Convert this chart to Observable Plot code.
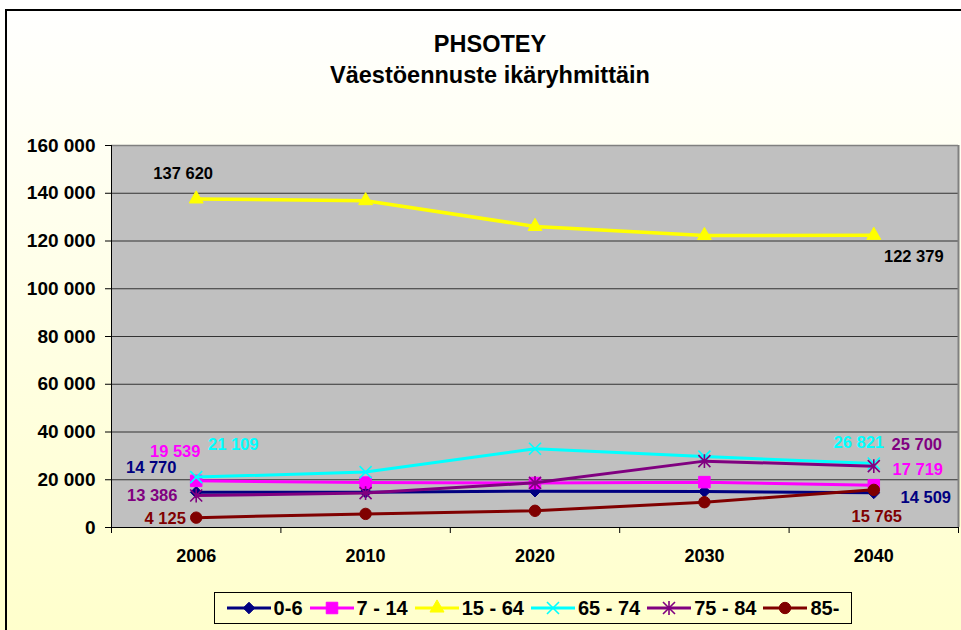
<!DOCTYPE html>
<html><head><meta charset="utf-8">
<script src="https://cdn.jsdelivr.net/npm/d3@7"></script>
<script src="https://cdn.jsdelivr.net/npm/@observablehq/plot@0.6"></script>
<style>
html,body{margin:0;padding:0;width:961px;height:630px;overflow:hidden;}
#wrap{position:relative;width:961px;height:630px;overflow:hidden;
  background:linear-gradient(to bottom,#ffffff 0%,#fffff2 25%,#ffffcc 100%);
  font-family:"Liberation Sans",Arial,sans-serif;}
#border{position:absolute;left:5px;top:9px;width:1000px;height:700px;border-left:2px solid #000;border-top:2px solid #000;}
.title{position:absolute;left:0;width:980px;text-align:center;font-weight:bold;font-size:23.5px;line-height:23px;color:#000;}
#chart{position:absolute;left:0;top:0;}
#legend{position:absolute;left:214px;top:592px;width:636px;height:30px;border:1px solid #000;
  display:flex;align-items:center;justify-content:center;gap:7px;font-weight:bold;font-size:20px;}
#legend .item{display:flex;align-items:center;gap:3px;}
</style>
</head><body>
<div id="wrap">
  <div id="border"></div>
  <div class="title" style="top:33px">PHSOTEY</div>
  <div class="title" style="top:64px">Väestöennuste ikäryhmittäin</div>
  <div id="chart"></div>
  <div id="legend"></div>
</div>
<script>
// ---- data ----
const years = ["2006", "2010", "2020", "2030", "2040"];
const seriesNames = ["0-6", "7 - 14", "15 - 64", "65 - 74", "75 - 84", "85-"];
const age0_6   = [14770, 14800, 15200, 15100, 14509];
const age7_14  = [19539, 18800, 18600, 19000, 17719];
const age15_64 = [137620, 136900, 126100, 122300, 122379];
const age65_74 = [21109, 23200, 33000, 29700, 26821];
const age75_84 = [13386, 14400, 18700, 27800, 25700];
const age85    = [4125, 5700, 7000, 10600, 15765];
const yTicks = [0, 20000, 40000, 60000, 80000, 100000, 120000, 140000, 160000];

const seriesValues = [age0_6, age7_14, age15_64, age65_74, age75_84, age85];
const colors = ["#000080", "#FF00FF", "#FFFF00", "#00FFFF", "#800080", "#800000"];

const data = seriesNames.flatMap((s, k) =>
  seriesValues[k].map((v, i) => ({series: s, i, year: years[i], value: v})));

const fmt = v => d3.format(",")(v).replace(/,/g, " ");

// custom Excel-like symbols
const xSym = {draw(ctx, size) { const r = Math.sqrt(size / Math.PI);
  ctx.moveTo(-r, -r); ctx.lineTo(r, r); ctx.moveTo(-r, r); ctx.lineTo(r, -r); }};
const starSym = {draw(ctx, size) { const r = Math.sqrt(size / Math.PI);
  ctx.moveTo(-r, -r); ctx.lineTo(r, r); ctx.moveTo(-r, r); ctx.lineTo(r, -r);
  ctx.moveTo(0, -r * 1.15); ctx.lineTo(0, r * 1.15); }};

const symbolStyle = {
  "0-6":     {symbol: "diamond2", r: 5.2, filled: true},
  "7 - 14":  {symbol: "square", r: 6.5, filled: true},
  "15 - 64": {symbol: "triangle", r: 5.2, filled: true},
  "65 - 74": {symbol: xSym, r: 6, filled: false},
  "75 - 84": {symbol: starSym, r: 6, filled: false},
  "85-":     {symbol: "circle", r: 5.7, filled: true}
};
const colorOf = s => colors[seriesNames.indexOf(s)];

const seriesMarks = seriesNames.flatMap(s => {
  const st = symbolStyle[s];
  const d = data.filter(e => e.series === s);
  const c = colorOf(s);
  return [
    Plot.line(d, {x: "i", y: "value", stroke: c, strokeWidth: s === "15 - 64" ? 3.5 : 3}),
    Plot.dot(d, {x: "i", y: "value", symbol: st.symbol, r: st.r,
      fill: st.filled ? c : "none", stroke: c, strokeWidth: st.filled ? 1 : 1.6})
  ];
});

// data label placement
const labelSpecs = [
  {series: "15 - 64", i: 0, dx: -13, dy: -25, color: "#000"},
  {series: "15 - 64", i: 4, dx: 40, dy: 21, color: "#000"},
  {series: "7 - 14", i: 0, dx: -21, dy: -29},
  {series: "65 - 74", i: 0, dx: 37, dy: -32},
  {series: "0-6", i: 0, dx: -45, dy: -25},
  {series: "75 - 84", i: 0, dx: -44, dy: 0},
  {series: "85-", i: 0, dx: -31, dy: 1},
  {series: "65 - 74", i: 4, dx: -15, dy: -21},
  {series: "75 - 84", i: 4, dx: 43, dy: -21},
  {series: "7 - 14", i: 4, dx: 44, dy: -15},
  {series: "0-6", i: 4, dx: 52, dy: 5},
  {series: "85-", i: 4, dx: 3, dy: 27}
];
const labelMarks = labelSpecs.map(sp => {
  const d = data.filter(e => e.series === sp.series && e.i === sp.i);
  return Plot.text(d, {x: "i", y: "value", text: e => fmt(e.value), dx: sp.dx, dy: sp.dy,
    fill: sp.color || colorOf(sp.series), fontSize: 16.5, fontWeight: "bold"});
});

const boundaries = d3.range(years.length + 1).map(k => k - 0.5);

const chart = Plot.plot({
  width: 961, height: 630,
  marginLeft: 111, marginRight: 3, marginTop: 145, marginBottom: 103,
  style: {background: "transparent", fontFamily: "'Liberation Sans', Arial, sans-serif",
          fontSize: "18px", fontWeight: "bold", color: "#000"},
  x: {type: "linear", domain: [-0.5, years.length - 0.5], label: null},
  y: {domain: [0, 160000], label: null},
  marks: [
    Plot.frame({fill: "#C0C0C0", stroke: null}),
    Plot.ruleY(yTicks.filter(t => t > 0 && t < 160000), {stroke: "#333", strokeWidth: 1}),
    Plot.ruleY([160000], {stroke: "#808080", strokeWidth: 1.5}),
    Plot.ruleX([years.length - 0.5], {stroke: "#808080", strokeWidth: 2}),
    ...seriesMarks,
    Plot.ruleX([-0.5], {stroke: "#000", strokeWidth: 1}),
    Plot.ruleY([0], {stroke: "#000", strokeWidth: 1}),
    Plot.axisY({ticks: yTicks, tickSize: 6, tickPadding: 10, tickFormat: fmt, label: null, fontSize: 19}),
    Plot.axisX({ticks: d3.range(years.length), tickSize: 0, tickPadding: 22,
      tickFormat: i => years[i], label: null}),
    Plot.axisX({ticks: boundaries, tickSize: 6, tickFormat: () => "", label: null}),
    ...labelMarks
  ]
});
document.getElementById("chart").appendChild(chart);

// legend
const legend = d3.select("#legend");
const symPath = {
  "0-6": d3.symbol(d3.symbolDiamond2, Math.PI * 5.2 * 5.2)(),
  "7 - 14": d3.symbol(d3.symbolSquare, Math.PI * 6.5 * 6.5)(),
  "15 - 64": d3.symbol(d3.symbolTriangle, Math.PI * 5.2 * 5.2)(),
  "65 - 74": d3.symbol(xSym, Math.PI * 36)(),
  "75 - 84": d3.symbol(starSym, Math.PI * 36)(),
  "85-": d3.symbol(d3.symbolCircle, Math.PI * 5.7 * 5.7)()
};
seriesNames.forEach(s => {
  const c = colorOf(s);
  const item = legend.append("div").attr("class", "item");
  const svg = item.append("svg").attr("width", 44).attr("height", 18);
  svg.append("line").attr("x1", 0).attr("x2", 44).attr("y1", 9).attr("y2", 9)
    .attr("stroke", c).attr("stroke-width", 3);
  const st = symbolStyle[s];
  svg.append("path").attr("d", symPath[s]).attr("transform", "translate(22,9)")
    .attr("fill", st.filled ? c : "none").attr("stroke", c).attr("stroke-width", st.filled ? 1 : 1.6);
  item.append("span").text(s);
});
</script>
</body></html>
